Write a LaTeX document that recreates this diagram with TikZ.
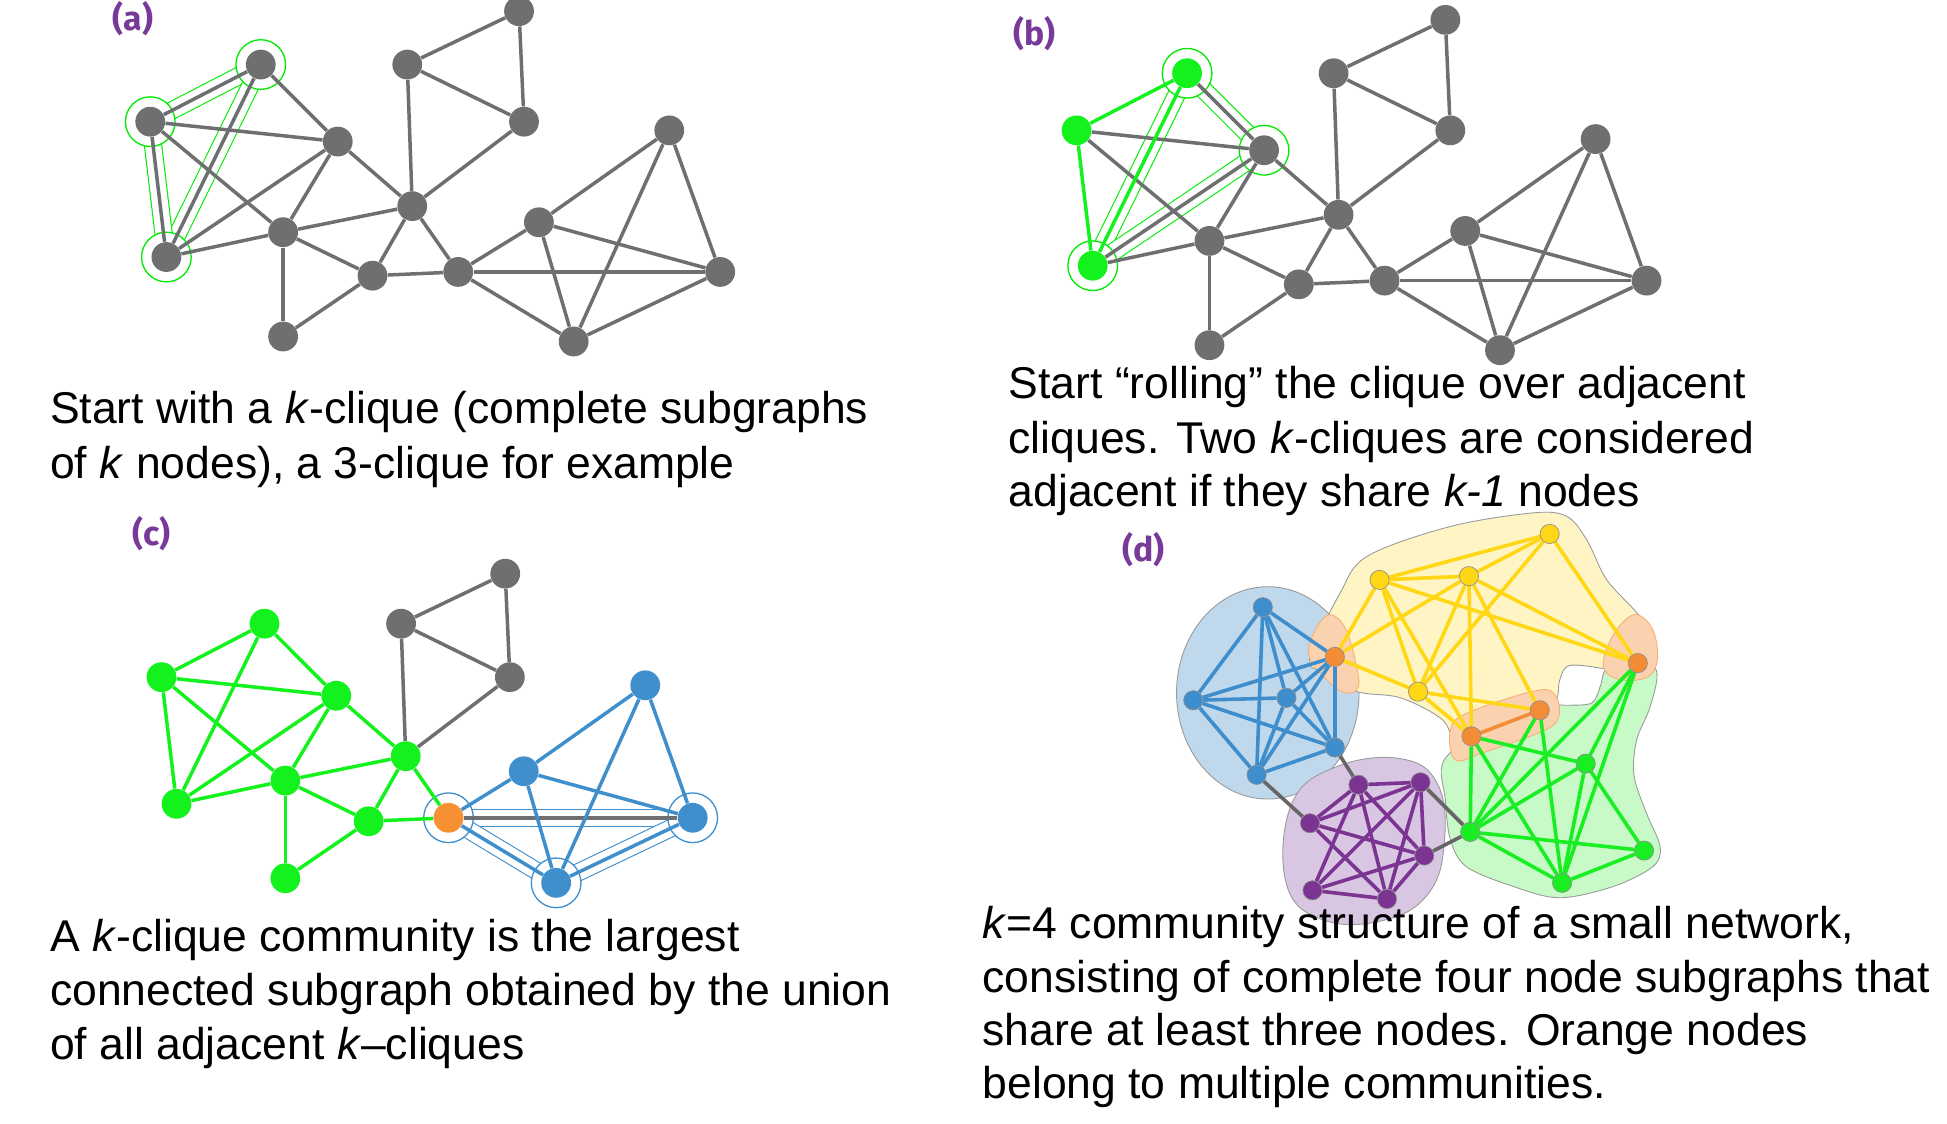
\documentclass[tikz,border=0pt]{standalone}
\usepackage{fontspec}
\setmainfont{Liberation Sans}
\newfontfamily\labelfont{Fira Sans}
\usepackage{tikz}
\definecolor{nodegray}{RGB}{110,111,113}
\definecolor{kgreen}{RGB}{20,242,30}
\definecolor{tubegreen}{RGB}{0,235,0}
\definecolor{kblue}{RGB}{64,143,205}
\definecolor{korange}{RGB}{245,145,50}
\definecolor{lblpurple}{RGB}{120,58,152}
\definecolor{dyellow}{RGB}{255,215,20}
\definecolor{dgreen}{RGB}{25,238,35}
\definecolor{dblue}{RGB}{62,142,205}
\definecolor{dpurple}{RGB}{123,52,145}
\definecolor{dorange}{RGB}{242,140,55}
\definecolor{blobblue}{RGB}{192,216,236}
\definecolor{blobyellow}{RGB}{255,245,196}
\definecolor{blobgreen}{RGB}{200,250,200}
\definecolor{blobpurple}{RGB}{216,198,226}
\definecolor{bloborange}{RGB}{250,210,175}
\pgfdeclarelayer{blobs}
\pgfdeclarelayer{rings}
\pgfdeclarelayer{links}
\pgfsetlayers{blobs,rings,links,main}
\tikzset{
    dot/.style={circle, fill=nodegray, inner sep=0pt, minimum size=4.8mm},
    link/.style={draw=nodegray, line width=1.6pt},
    greenlink/.style={link, draw=kgreen},
    bluelink/.style={link, draw=kblue},
    greentube/.style={draw=tubegreen, line width=0.5pt, double=white, double distance=2.6mm},
    bluetube/.style={greentube, draw=kblue},
    greenring/.style={circle, draw=tubegreen, line width=0.6pt, fill=white, minimum size=8mm, inner sep=0pt},
    bluering/.style={greenring, draw=kblue},
    pt/.style={circle, draw=black!45, line width=0.3pt, inner sep=0pt, minimum size=3.1mm},
    dlink/.style={line width=1.65pt},
    blob/.style={draw=black!40, line width=0.4pt},
    caption/.style={anchor=base west, inner sep=0pt, font=\fontsize{20.4pt}{24pt}\selectfont},
    panellabel/.style={text=lblpurple, font=\labelfont\bfseries\fontsize{15.5pt}{18pt}\selectfont}
}

\begin{document}
\begin{tikzpicture}[x=0.02cm, y=-0.02cm]
\useasboundingbox (0,0) rectangle (1568,905);

% (a) a first 3-clique
\foreach \n/\x/\y in {A/210/52, B/121/98, C/134/207, D/272/114, E/228/187, F/300/222,
    G/228/271, H/332/166, I/328/52, J/418/9, K/422/98, L/369/219, M/434/179,
    N/539/105, O/580/219, P/462/275}
    \node[dot] (a\n) at (\x,\y) {};
\begin{pgfonlayer}{blobs}
    \foreach \u/\v in {A/B, A/C, B/C}
        \draw[greentube] (a\u) -- (a\v);
\end{pgfonlayer}
\begin{pgfonlayer}{rings}
    \foreach \n in {A,B,C}
        \node[greenring] (aR\n) at (a\n) {};
\end{pgfonlayer}
\begin{pgfonlayer}{links}
    \foreach \u/\v in {A/B, A/C, B/C, A/D, B/D, B/E, C/D, C/E, D/E, D/H, E/H, E/F, E/G,
        G/F, F/H, F/L, H/L, H/I, I/J, I/K, J/K, K/H, L/M, L/O, L/P, M/O, M/P, M/N,
        N/P, N/O, P/O}
        \draw[link] (a\u) -- (a\v);
\end{pgfonlayer}
\node[panellabel] (labA) at (107,15) {(a)};
\node[caption] (capA1) at (40,341) {Start with a \textit{k}-clique (complete subgraphs};
\node[caption] (capA2) at (40,385) {of \textit{k} nodes), a 3-clique for example};

% (b) rolling the clique
\begin{scope}[shift={(746,7)}]
\foreach \n/\x/\y/\c in {A/210/52/kgreen, B/121/98/kgreen, C/134/207/kgreen,
    D/272/114/nodegray, E/228/187/nodegray, F/300/222/nodegray, G/228/271/nodegray,
    H/332/166/nodegray, I/328/52/nodegray, J/418/9/nodegray, K/422/98/nodegray,
    L/369/219/nodegray, M/434/179/nodegray, N/539/105/nodegray, O/580/219/nodegray,
    P/462/275/nodegray}
    \node[dot, fill=\c] (b\n) at (\x,\y) {};
\end{scope}
\begin{pgfonlayer}{blobs}
    \foreach \u/\v in {A/C, A/D, C/D}
        \draw[greentube] (b\u) -- (b\v);
\end{pgfonlayer}
\begin{pgfonlayer}{rings}
    \foreach \n in {A,C,D}
        \node[greenring] (bR\n) at (b\n) {};
\end{pgfonlayer}
\begin{pgfonlayer}{links}
    \foreach \u/\v in {A/D, B/D, B/E, C/D, C/E, D/E, D/H, E/H, E/F, E/G, G/F, F/H,
        F/L, H/L, H/I, I/J, I/K, J/K, K/H, L/M, L/O, L/P, M/O, M/P, M/N, N/P, N/O, P/O}
        \draw[link] (b\u) -- (b\v);
    \foreach \u/\v in {A/B, A/C, B/C}
        \draw[greenlink] (b\u) -- (b\v);
\end{pgfonlayer}
\node[panellabel] (labB) at (833,27) {(b)};
\node[caption] (capB1) at (812,321) {Start ``rolling'' the clique over adjacent};
\node[caption] (capB2) at (812,365) {cliques. Two \textit{k}-cliques are considered};
\node[caption] (capB3) at (812,408) {adjacent if they share \textit{k-1} nodes};

% (c) the community
\begin{scope}[shift={(17.3,453.6)}, xscale=0.932, yscale=0.936]
\foreach \n/\x/\y/\c in {A/210/52/kgreen, B/121/98/kgreen, C/134/207/kgreen,
    D/272/114/kgreen, E/228/187/kgreen, F/300/222/kgreen, G/228/271/kgreen,
    H/332/166/kgreen, I/328/52/nodegray, J/418/9/nodegray, K/422/98/nodegray,
    L/369/219/korange, M/434/179/kblue, N/539/105/kblue, O/580/219/kblue,
    P/462/275/kblue}
    \node[dot, fill=\c] (c\n) at (\x,\y) {};
\end{scope}
\begin{pgfonlayer}{blobs}
    \foreach \u/\v in {L/O, L/P, O/P}
        \draw[bluetube] (c\u) -- (c\v);
\end{pgfonlayer}
\begin{pgfonlayer}{rings}
    \foreach \n in {L,O,P}
        \node[bluering] (cR\n) at (c\n) {};
\end{pgfonlayer}
\begin{pgfonlayer}{links}
    \foreach \u/\v in {A/B, A/C, B/C, A/D, B/D, B/E, C/D, C/E, D/E, D/H, E/H, E/F,
        E/G, G/F, F/H, F/L, H/L}
        \draw[greenlink] (c\u) -- (c\v);
    \foreach \u/\v in {H/I, I/J, I/K, J/K, K/H, L/O}
        \draw[link] (c\u) -- (c\v);
    \foreach \u/\v in {L/M, L/P, M/O, M/P, M/N, N/P, N/O, P/O}
        \draw[bluelink] (c\u) -- (c\v);
\end{pgfonlayer}
\node[panellabel] (labC) at (122,430) {(c)};
\node[caption] (capC1) at (40,766) {A \textit{k}-clique community is the largest};
\node[caption] (capC2) at (40,810) {connected subgraph obtained by the union};
\node[caption] (capC3) at (40,853) {of all adjacent \textit{k}--cliques};

% (d) overlapping communities, k=4
\foreach \n/\x/\y in {1/1017/489, 2/961/564, 3/1036/562, 4/1075/602, 5/1012/624}
    \node[pt, fill=dblue] (bl\n) at (\x,\y) {};
\foreach \n/\x/\y in {1/1248/430, 2/1111/467, 3/1183/464, 4/1142/557}
    \node[pt, fill=dyellow] (ye\n) at (\x,\y) {};
\foreach \n/\x/\y in {1/1075/529, 2/1319/534, 3/1240/572, 4/1185/593}
    \node[pt, fill=dorange] (or\n) at (\x,\y) {};
\foreach \n/\x/\y in {1/1277/615, 2/1184/670, 3/1324/685, 4/1258/711}
    \node[pt, fill=dgreen] (gr\n) at (\x,\y) {};
\foreach \n/\x/\y in {1/1094/632, 2/1144/630, 3/1055/663, 4/1147/689, 5/1057/717, 6/1117/724}
    \node[pt, fill=dpurple] (pu\n) at (\x,\y) {};
\begin{pgfonlayer}{blobs}
    \filldraw[blob, fill=blobblue] (1021,558) ellipse [x radius=73.5, y radius=85.5];
    \filldraw[blob, fill=blobpurple] plot[smooth cycle, tension=0.7] coordinates
        {(1040,648) (1075,618) (1128,611) (1158,632) (1163,680) (1150,720) (1115,741) (1066,741) (1036,712)};
    \filldraw[blob, fill=blobyellow] plot[smooth cycle, tension=0.55] coordinates
        {(1055,529) (1079,478) (1101,448) (1168,424) (1235,413) (1262,416) (1278,435)
         (1294,467) (1321,497) (1333,522) (1330,540) (1318,546) (1294,539) (1264,536)
         (1256,548) (1254,562) (1244,577) (1208,588) (1176,604) (1162,580) (1128,562)
         (1093,557) (1063,541)};
    \filldraw[blob, fill=blobgreen] plot[smooth cycle, tension=0.55] coordinates
        {(1163,612) (1200,585) (1240,568) (1262,568) (1282,566) (1289,552) (1294,538)
         (1315,530) (1334,540) (1329,569) (1318,596) (1316,625) (1326,655) (1337,682)
         (1331,698) (1299,714) (1256,723) (1219,714) (1181,698) (1168,676) (1164,644)};
    \filldraw[blob, draw=dorange!70, fill=bloborange] plot[smooth cycle, tension=0.6] coordinates
        {(1054,527) (1060,506) (1071,495) (1083,505) (1091,530) (1094,553) (1083,558) (1067,546)};
    \filldraw[blob, draw=dorange!70, fill=bloborange] plot[smooth cycle, tension=0.6] coordinates
        {(1291,534) (1300,510) (1316,495) (1330,505) (1335,527) (1330,543) (1315,548) (1298,545)};
    \filldraw[blob, draw=dorange!70, fill=bloborange] plot[smooth cycle, tension=0.6] coordinates
        {(1168,588) (1182,574) (1238,556) (1253,561) (1255,578) (1242,589) (1195,606) (1172,612)};
\end{pgfonlayer}
\begin{pgfonlayer}{links}
    \foreach \u/\v in {bl1/bl2, bl1/bl3, bl1/bl4, bl1/bl5, bl1/or1, bl2/bl3, bl2/bl4,
        bl2/bl5, bl2/or1, bl3/bl4, bl3/bl5, bl3/or1, bl4/bl5, bl4/or1, bl5/or1}
        \draw[dlink, dblue] (\u) -- (\v);
    \foreach \u/\v in {pu1/pu2, pu1/pu3, pu1/pu4, pu1/pu5, pu1/pu6, pu2/pu3, pu2/pu4,
        pu2/pu5, pu2/pu6, pu3/pu4, pu3/pu6, pu4/pu5, pu4/pu6, pu5/pu6}
        \draw[dlink, dpurple] (\u) -- (\v);
    \foreach \u/\v in {ye1/ye2, ye1/ye3, ye2/ye3, ye1/or2, ye1/ye4, ye2/or2, ye3/or2,
        ye2/or1, ye3/or1, ye2/ye4, ye2/or4, ye3/ye4, ye3/or4, ye3/or3, or1/ye4,
        ye4/or3, ye4/or4}
        \draw[dlink, dyellow] (\u) -- (\v);
    \foreach \u/\v in {or4/gr2, or4/gr1, or4/gr4, or3/gr2, or3/gr4, gr2/gr1, gr2/or2,
        gr2/gr3, gr2/gr4, gr1/gr4, gr1/gr3, gr1/or2, gr4/or2, gr4/gr3}
        \draw[dlink, dgreen] (\u) -- (\v);
    \draw[dlink, dorange] (or4) -- (or3);
    \foreach \u/\v in {bl4/pu1, bl5/pu3, pu2/gr2, pu4/gr2}
        \draw[dlink, black!60] (\u) -- (\v);
\end{pgfonlayer}
\node[panellabel] (labD) at (921,443) {(d)};
\node[caption] (capD1) at (791,756) {\textit{k}=4 community structure of a small network,};
\node[caption] (capD2) at (791,799) {consisting of complete four node subgraphs that};
\node[caption] (capD3) at (791,842) {share at least three nodes. Orange nodes};
\node[caption] (capD4) at (791,885) {belong to multiple communities.};
\end{tikzpicture}
\end{document}
